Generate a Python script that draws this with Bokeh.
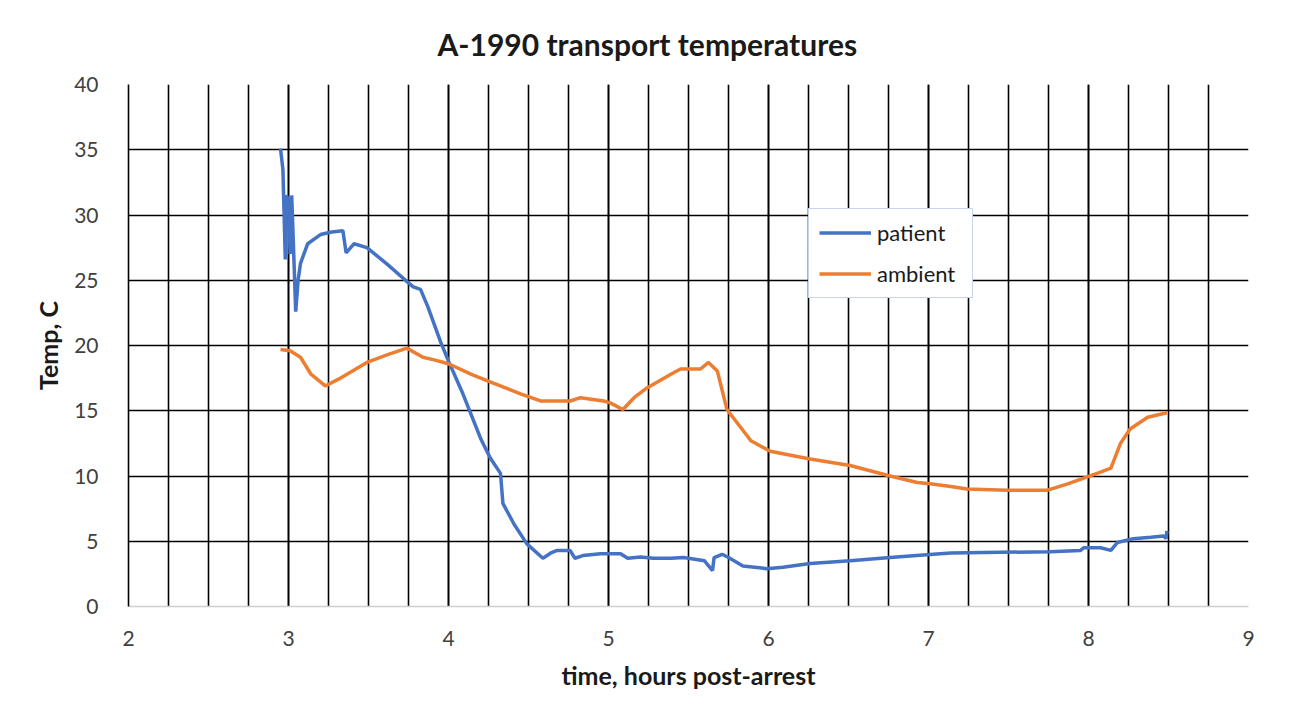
from bokeh.plotting import figure
from bokeh.models import Range1d, FixedTicker, Legend, LegendItem
from bokeh.embed import file_html
from bokeh.resources import INLINE

# ---- data ----
patient_t = [2.95, 2.965, 2.98, 2.985, 3.0, 3.01, 3.02, 3.03, 3.045, 3.06, 3.075, 3.12, 3.2, 3.27,
             3.34, 3.36, 3.41, 3.49, 3.62, 3.74, 3.78, 3.825, 3.87, 3.95, 4.0, 4.09, 4.2, 4.26,
             4.325, 4.34, 4.41, 4.49, 4.59, 4.64, 4.68, 4.76, 4.79, 4.84, 4.95, 5.075, 5.12, 5.2,
             5.28, 5.39, 5.47, 5.6, 5.65, 5.66, 5.71, 5.75, 5.84, 5.99, 6.09, 6.26, 6.51, 6.76,
             7.03, 7.14, 7.45, 7.76, 7.95, 7.97, 8.075, 8.14, 8.18, 8.28, 8.39, 8.47, 8.485, 8.49]
patient_temp = [35.1, 33.5, 26.6, 31.5, 31.2, 27.0, 31.5, 28.0, 22.6, 25.0, 26.3, 27.8, 28.5, 28.7,
                28.8, 27.1, 27.8, 27.5, 26.2, 24.9, 24.5, 24.3, 23.0, 20.3, 18.8, 16.3, 12.9, 11.4,
                10.2, 7.9, 6.3, 4.8, 3.7, 4.1, 4.3, 4.3, 3.7, 3.9, 4.05, 4.05, 3.7, 3.8,
                3.7, 3.7, 3.75, 3.5, 2.75, 3.75, 4.0, 3.75, 3.1, 2.9, 3.0, 3.3, 3.5, 3.75,
                4.0, 4.1, 4.15, 4.2, 4.3, 4.5, 4.5, 4.3, 4.9, 5.2, 5.3, 5.4, 5.2, 5.8]

ambient_t = [2.95, 3.01, 3.075, 3.14, 3.23, 3.31, 3.49, 3.62, 3.74, 3.84, 3.91, 4.0, 4.14, 4.24,
             4.45, 4.575, 4.76, 4.825, 4.97, 5.01, 5.09, 5.16, 5.24, 5.39, 5.45, 5.575, 5.625,
             5.68, 5.74, 5.89, 6.01, 6.26, 6.51, 6.76, 6.93, 7.01, 7.14, 7.24, 7.49, 7.74, 7.87,
             8.075, 8.14, 8.2, 8.26, 8.37, 8.49]
ambient_temp = [19.7, 19.6, 19.1, 17.8, 16.9, 17.4, 18.7, 19.3, 19.8, 19.1, 18.9, 18.6, 17.8, 17.3,
                16.3, 15.75, 15.75, 16.0, 15.75, 15.6, 15.1, 16.0, 16.75, 17.8, 18.2, 18.2, 18.7,
                18.05, 15.1, 12.7, 11.9, 11.3, 10.8, 10.0, 9.5, 9.4, 9.2, 9.0, 8.9, 8.9, 9.4,
                10.3, 10.6, 12.5, 13.6, 14.5, 14.85]

x_ticks = [2, 3, 4, 5, 6, 7, 8, 9]
x_minor = [2 + 0.25 * i for i in range(29)]
y_ticks = [0, 5, 10, 15, 20, 25, 30, 35, 40]

title_text = "A-1990 transport temperatures"
x_label = "time, hours post-arrest"
y_label = "Temp, C"

FONT = "Lato"

p = figure(width=1286, height=717, output_backend="svg", toolbar_location=None,
           x_range=Range1d(2, 9), y_range=Range1d(0, 40))
p.min_border_left = 128
p.min_border_right = 1286 - 1248
p.min_border_top = 83
p.min_border_bottom = 717 - 606
p.outline_line_color = None
p.background_fill_color = "white"
p.border_fill_color = "white"
# faint outer chart border drawn as a CSS outline (does not affect layout)
p.styles = {"outline": "1.5px solid #d9d9d9", "outline-offset": "-4px"}

# title
p.title.text = title_text
p.title.text_font = FONT
p.title.text_font_style = "bold"
p.title.text_font_size = "30px"
p.title.text_color = "#1a1a1a"
p.title.align = "left"
p.title.offset = 309
p.title.standoff = 46

# axes
p.xaxis.ticker = FixedTicker(ticks=x_ticks, minor_ticks=x_minor)
p.yaxis.ticker = FixedTicker(ticks=y_ticks)
for ax in (p.xaxis, p.yaxis):
    ax.major_tick_line_color = None
    ax.minor_tick_line_color = None
    ax.major_label_text_font = FONT
    ax.major_label_text_font_size = "21px"
    ax.major_label_text_color = "#404040"
    ax.axis_label_text_font = FONT
    ax.axis_label_text_font_style = "bold"
    ax.axis_label_text_font_size = "25px"
    ax.axis_label_text_color = "#1a1a1a"
p.xaxis.axis_label = x_label
p.yaxis.axis_label = y_label
p.xaxis.axis_line_color = "#d0d0d0"
p.xaxis.axis_line_width = 1.5
p.yaxis.axis_line_color = "black"
p.yaxis.axis_line_width = 1.6
p.xaxis.major_label_standoff = 18
p.xaxis.axis_label_standoff = 11
p.yaxis.major_label_standoff = 24
p.yaxis.axis_label_standoff = 8

# grid
p.xgrid.grid_line_color = "black"
p.xgrid.grid_line_width = 1.6
p.xgrid.minor_grid_line_color = "black"
p.xgrid.minor_grid_line_width = 1.6
p.ygrid.ticker = FixedTicker(ticks=y_ticks[1:])
p.ygrid.grid_line_color = "black"
p.ygrid.grid_line_width = 1.6

# lines
r1 = p.line(patient_t, patient_temp, line_color="#4472c4", line_width=3.5)
r2 = p.line(ambient_t, ambient_temp, line_color="#ed7d31", line_width=3.5)

legend = Legend(items=[LegendItem(label="patient", renderers=[r1]),
                       LegendItem(label="ambient", renderers=[r2])],
                location=(680, 308), margin=0, padding=10, spacing=14,
                glyph_width=52, glyph_height=27, label_height=27, label_width=85,
                label_standoff=6, label_text_font=FONT, label_text_font_size="22px",
                label_text_color="#1a1a1a", border_line_color="#8eaadb",
                border_line_width=1.2, background_fill_color="white",
                background_fill_alpha=1.0)
p.add_layout(legend, "center")

open("out.html", "w").write(file_html(p, INLINE))
